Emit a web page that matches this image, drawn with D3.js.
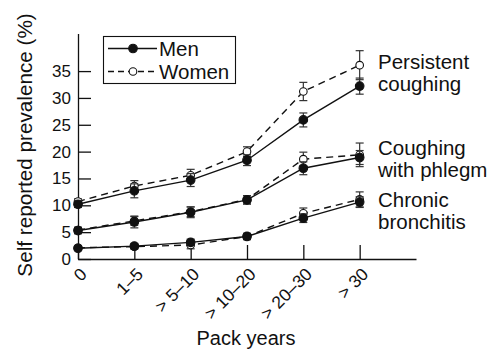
<!DOCTYPE html>
<html>
<head>
<meta charset="utf-8">
<script src="https://cdn.jsdelivr.net/npm/d3@7"></script>
<style>
  body { margin: 0; background: #fff; }
  text { font-family: "Liberation Sans", Arial, sans-serif; fill: #111; }
</style>
</head>
<body>
<svg id="chart" width="497" height="349"></svg>
<script>
// pack-year groups
var categories = ['0', '1–5', '> 5–10', '> 10–20', '> 20–30', '> 30']
var yTicks = [0, 5, 10, 15, 20, 25, 30, 35]

// prevalence (%), with half-width of the error bars
var coughMen = [10.2, 12.7, 14.7, 18.4, 25.9, 32.2]
var coughMenErr = [0.6, 1.3, 1.2, 1.0, 1.3, 1.5]
var coughWomen = [10.7, 13.6, 15.6, 20.0, 31.2, 36.1]
var coughWomenErr = [0.5, 1.0, 1.1, 0.9, 1.7, 2.7]

var phlegmMen = [5.3, 6.9, 8.7, 11.0, 16.9, 18.9]
var phlegmMenErr = [0.6, 1.1, 1.0, 0.8, 1.2, 1.3]
var phlegmWomen = [5.4, 7.1, 8.8, 11.1, 18.6, 19.4]
var phlegmWomenErr = [0.5, 0.8, 0.9, 0.7, 1.3, 2.2]

var bronchMen = [2.0, 2.4, 3.1, 4.2, 7.6, 10.6]
var bronchMenErr = [0.3, 0.5, 0.6, 0.6, 0.8, 1.0]
var bronchWomen = [2.1, 2.3, 2.6, 4.2, 8.5, 11.1]
var bronchWomenErr = [0.3, 0.4, 0.7, 0.5, 1.0, 1.4]

var seriesLabels = [['Persistent', 'coughing'], ['Coughing', 'with phlegm'], ['Chronic', 'bronchitis']]

var series = [
  { men: coughMen, menErr: coughMenErr, women: coughWomen, womenErr: coughWomenErr, label: seriesLabels[0] },
  { men: phlegmMen, menErr: phlegmMenErr, women: phlegmWomen, womenErr: phlegmWomenErr, label: seriesLabels[1] },
  { men: bronchMen, menErr: bronchMenErr, women: bronchWomen, womenErr: bronchWomenErr, label: seriesLabels[2] }
]

// baseline of the first line of each right-hand label
var labelTop = [68.5, 155, 206.5]

var svg = d3.select('#chart')

var xScale = d3.scaleLinear().domain([0, 6]).range([78, 416])
var yScale = d3.scaleLinear().domain([0, 42]).range([259, 33.5])

// axes
var yAxis = d3.axisLeft(yScale)
  .tickValues(yTicks)
  .tickSizeInner(-13)
  .tickSizeOuter(0)
  .tickPadding(7)
svg.append('g')
  .attr('transform', 'translate(78,0)')
  .call(yAxis)
  .call(g => g.selectAll('text').style('font-size', '17px').attr('fill', '#111'))
  .call(g => g.selectAll('line, path').attr('stroke', '#111').attr('stroke-width', 1.3))

var xAxis = d3.axisBottom(xScale)
  .tickValues(d3.range(categories.length))
  .tickFormat(i => categories[i])
  .tickSizeInner(-14)
  .tickSizeOuter(0)
svg.append('g')
  .attr('transform', 'translate(0,259)')
  .call(xAxis)
  .call(g => g.selectAll('line, path').attr('stroke', '#111').attr('stroke-width', 1.3))
  .call(g => g.selectAll('text')
    .style('font-size', '17.5px')
    .attr('fill', '#111')
    .attr('text-anchor', 'end')
    .attr('y', 0)
    .attr('dy', '0.35em')
    .attr('transform', 'translate(5,12) rotate(-45)'))

// axis titles
svg.append('text')
  .attr('transform', 'translate(32,145) rotate(-90)')
  .attr('text-anchor', 'middle')
  .style('font-size', '20.7px')
  .text('Self reported prevalence (%)')

svg.append('text')
  .attr('x', 246)
  .attr('y', 345)
  .attr('text-anchor', 'middle')
  .style('font-size', '20px')
  .text('Pack years')

var line = d3.line()
  .x((d, i) => xScale(i))
  .y(d => yScale(d))

function drawGroup(values, errs, dashed, filled) {
  var g = svg.append('g')
  g.append('path')
    .datum(values)
    .attr('d', line)
    .attr('fill', 'none')
    .attr('stroke', '#111')
    .attr('stroke-width', 1.4)
    .attr('stroke-dasharray', dashed ? '7,5' : null)

  var eb = g.selectAll('.eb')
    .data(values)
    .enter()
    .append('g')
  eb.append('line')
    .attr('x1', (d, i) => xScale(i))
    .attr('x2', (d, i) => xScale(i))
    .attr('y1', (d, i) => yScale(d - errs[i]))
    .attr('y2', (d, i) => yScale(d + errs[i]))
    .attr('stroke', '#333')
    .attr('stroke-width', 1.2)
  eb.append('line')
    .attr('x1', (d, i) => xScale(i) - 4)
    .attr('x2', (d, i) => xScale(i) + 4)
    .attr('y1', (d, i) => yScale(d + errs[i]))
    .attr('y2', (d, i) => yScale(d + errs[i]))
    .attr('stroke', '#333')
    .attr('stroke-width', 1.2)
  eb.append('line')
    .attr('x1', (d, i) => xScale(i) - 4)
    .attr('x2', (d, i) => xScale(i) + 4)
    .attr('y1', (d, i) => yScale(d - errs[i]))
    .attr('y2', (d, i) => yScale(d - errs[i]))
    .attr('stroke', '#333')
    .attr('stroke-width', 1.2)

  g.selectAll('circle')
    .data(values)
    .enter()
    .append('circle')
    .attr('cx', (d, i) => xScale(i))
    .attr('cy', d => yScale(d))
    .attr('r', filled ? 4.3 : 3.8)
    .attr('fill', filled ? '#111' : '#fff')
    .attr('stroke', '#111')
    .attr('stroke-width', 1.1)
}

series.forEach(function(s) {
  drawGroup(s.women, s.womenErr, true, false)
  drawGroup(s.men, s.menErr, false, true)
})

// series labels at the right end
series.forEach(function(s, i) {
  var t = svg.append('text')
    .attr('x', 378)
    .attr('y', labelTop[i])
    .style('font-size', '20.5px')
  t.append('tspan').attr('x', 378).text(s.label[0])
  t.append('tspan').attr('x', 378).attr('dy', 22).text(s.label[1])
})

// legend
var legend = svg.append('g')
legend.append('rect')
  .attr('x', 103.5)
  .attr('y', 36.5)
  .attr('width', 132)
  .attr('height', 47)
  .attr('fill', '#fff')
  .attr('stroke', '#111')
  .attr('stroke-width', 1.1)

var legendItems = [
  { name: 'Men', dashed: false, filled: true, y: 48.5 },
  { name: 'Women', dashed: true, filled: false, y: 71.5 }
]
legendItems.forEach(function(d) {
  legend.append('line')
    .attr('x1', 108).attr('x2', 157)
    .attr('y1', d.y).attr('y2', d.y)
    .attr('stroke', '#111')
    .attr('stroke-width', 1.4)
    .attr('stroke-dasharray', d.dashed ? '6,4' : null)
  legend.append('circle')
    .attr('cx', 133).attr('cy', d.y)
    .attr('r', d.filled ? 4.3 : 3.8)
    .attr('fill', d.filled ? '#111' : '#fff')
    .attr('stroke', '#111')
    .attr('stroke-width', 1.1)
  legend.append('text')
    .attr('x', 159)
    .attr('y', d.y + 7)
    .style('font-size', '20.5px')
    .text(d.name)
})
</script>
</body>
</html>
